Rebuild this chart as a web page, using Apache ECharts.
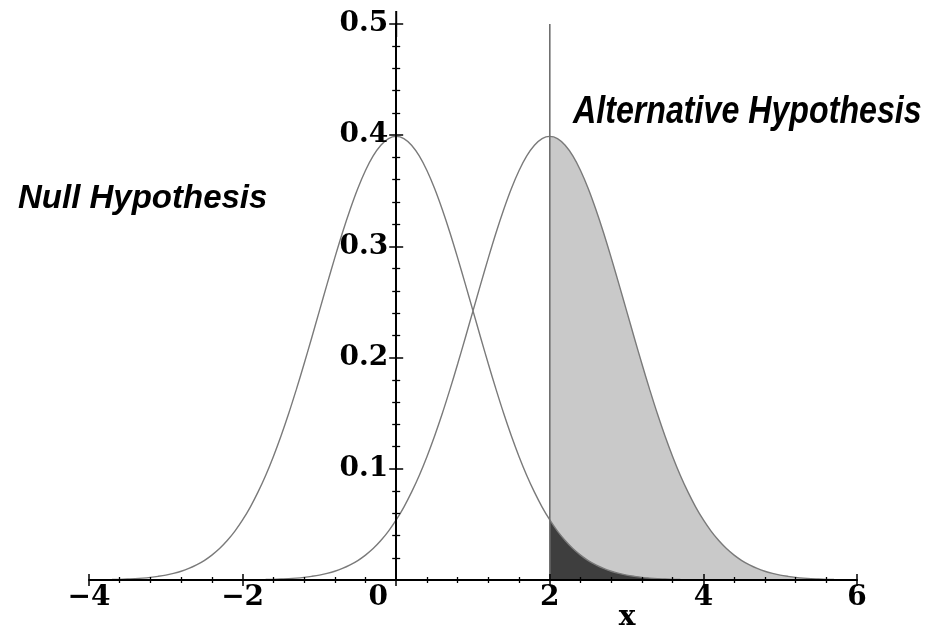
<!DOCTYPE html>
<html>
<head>
<meta charset="utf-8">
<script src="https://cdn.jsdelivr.net/npm/echarts@6/dist/echarts.min.js"></script>
<style>
  html, body { margin: 0; padding: 0; background: #ffffff; }
  #chart { width: 933px; height: 636px; }
</style>
</head>
<body>
<div id="chart"></div>
<script>
// Sample points along x (step 0.1) from -4 to 6
const xValues = [
  -4.0, -3.9, -3.8, -3.7, -3.6, -3.5, -3.4, -3.3, -3.2, -3.1,
  -3.0, -2.9, -2.8, -2.7, -2.6, -2.5, -2.4, -2.3, -2.2, -2.1,
  -2.0, -1.9, -1.8, -1.7, -1.6, -1.5, -1.4, -1.3, -1.2, -1.1,
  -1.0, -0.9, -0.8, -0.7, -0.6, -0.5, -0.4, -0.3, -0.2, -0.1,
  0.0, 0.1, 0.2, 0.3, 0.4, 0.5, 0.6, 0.7, 0.8, 0.9,
  1.0, 1.1, 1.2, 1.3, 1.4, 1.5, 1.6, 1.7, 1.8, 1.9,
  2.0, 2.1, 2.2, 2.3, 2.4, 2.5, 2.6, 2.7, 2.8, 2.9,
  3.0, 3.1, 3.2, 3.3, 3.4, 3.5, 3.6, 3.7, 3.8, 3.9,
  4.0, 4.1, 4.2, 4.3, 4.4, 4.5, 4.6, 4.7, 4.8, 4.9,
  5.0, 5.1, 5.2, 5.3, 5.4, 5.5, 5.6, 5.7, 5.8, 5.9,
  6.0
];

// Density of the null distribution (centred at 0)
const nullDensity = [
  0.0001, 0.0002, 0.0003, 0.0004, 0.0006, 0.0009, 0.0012, 0.0017, 0.0024, 0.0033,
  0.0044, 0.0060, 0.0079, 0.0104, 0.0136, 0.0175, 0.0224, 0.0283, 0.0355, 0.0440,
  0.0540, 0.0656, 0.0790, 0.0940, 0.1109, 0.1295, 0.1497, 0.1714, 0.1942, 0.2179,
  0.2420, 0.2661, 0.2897, 0.3123, 0.3332, 0.3521, 0.3683, 0.3814, 0.3910, 0.3970,
  0.3989, 0.3970, 0.3910, 0.3814, 0.3683, 0.3521, 0.3332, 0.3123, 0.2897, 0.2661,
  0.2420, 0.2179, 0.1942, 0.1714, 0.1497, 0.1295, 0.1109, 0.0940, 0.0790, 0.0656,
  0.0540, 0.0440, 0.0355, 0.0283, 0.0224, 0.0175, 0.0136, 0.0104, 0.0079, 0.0060,
  0.0044, 0.0033, 0.0024, 0.0017, 0.0012, 0.0009, 0.0006, 0.0004, 0.0003, 0.0002,
  0.0001, 0, 0, 0, 0, 0, 0, 0, 0, 0,
  0, 0, 0, 0, 0, 0, 0, 0, 0, 0,
  0
];

// Density of the alternative distribution (centred at 2)
const altDensity = [
  0, 0, 0, 0, 0, 0, 0, 0, 0, 0,
  0, 0, 0, 0, 0, 0, 0, 0, 0, 0,
  0.0001, 0.0002, 0.0003, 0.0004, 0.0006, 0.0009, 0.0012, 0.0017, 0.0024, 0.0033,
  0.0044, 0.0060, 0.0079, 0.0104, 0.0136, 0.0175, 0.0224, 0.0283, 0.0355, 0.0440,
  0.0540, 0.0656, 0.0790, 0.0940, 0.1109, 0.1295, 0.1497, 0.1714, 0.1942, 0.2179,
  0.2420, 0.2661, 0.2897, 0.3123, 0.3332, 0.3521, 0.3683, 0.3814, 0.3910, 0.3970,
  0.3989, 0.3970, 0.3910, 0.3814, 0.3683, 0.3521, 0.3332, 0.3123, 0.2897, 0.2661,
  0.2420, 0.2179, 0.1942, 0.1714, 0.1497, 0.1295, 0.1109, 0.0940, 0.0790, 0.0656,
  0.0540, 0.0440, 0.0355, 0.0283, 0.0224, 0.0175, 0.0136, 0.0104, 0.0079, 0.0060,
  0.0044, 0.0033, 0.0024, 0.0017, 0.0012, 0.0009, 0.0006, 0.0004, 0.0003, 0.0002,
  0.0001
];

// Critical value and the height of the cut-off line
const criticalValue = 2;
const cutoffTop = 0.5;

// Axis ranges and tick steps
const xRange = [-4, 6];
const xStep = 2;
const yRange = [0, 0.5];
const yStep = 0.1;

const labels = {
  nullTitle: 'Null Hypothesis',
  altTitle: 'Alternative Hypothesis',
  xName: 'x'
};

const pairs = (ys) => xValues.map((x, i) => [x, ys[i]]);
const rightOfCut = (ys) => pairs(ys).filter(p => p[0] >= criticalValue - 1e-9);

// Plot area
const W = 933, H = 636;
const grid = { left: 89, right: 76, top: 24, bottom: 56 };
const plotWidth = W - grid.left - grid.right;
// The vertical axis crosses the horizontal one at x = 0
const yAxisOffset = -((0 - xRange[0]) / (xRange[1] - xRange[0])) * plotWidth;

const serif = '"DejaVu Serif", "Liberation Serif", serif';
const labelFont = { fontFamily: serif, fontWeight: 'bold', fontSize: 28, color: '#000' };
const curveColor = '#7a7a7a';
const titleFont = 'italic bold 33px "Liberation Sans", Arial, sans-serif';
const altTitleFont = 'italic bold 32.5px "Liberation Sans", Arial, sans-serif';

function xAxisBase(inside) {
  return {
    type: 'value', min: xRange[0], max: xRange[1], interval: xStep, position: 'bottom', z: 10,
    axisLine: { show: !inside, onZero: false, lineStyle: { color: '#000', width: 2 } },
    axisTick: { show: true, inside: inside, length: 6, lineStyle: { color: '#000', width: 1.5 } },
    minorTick: { show: true, splitNumber: 5, length: 3, lineStyle: { color: '#000', width: 1.3 } },
    splitLine: { show: false },
    axisLabel: inside ? { show: false } : Object.assign({
      margin: 4,
      formatter: v => v === 0 ? '{z|0}' : String(v).replace('-', '\u2212'),
      rich: { z: Object.assign({ padding: [0, 36, 0, 0] }, labelFont) }
    }, labelFont)
  };
}

function yAxisBase(inside) {
  return {
    type: 'value', min: yRange[0], max: yRange[1], interval: yStep, position: 'left',
    offset: yAxisOffset, z: 10,
    axisLine: {
      show: true, onZero: false,
      symbol: inside ? 'none' : ['none', 'rect'], symbolSize: [2, 26],
      lineStyle: { color: '#000', width: 2 }
    },
    axisTick: { show: true, inside: inside, length: 7, lineStyle: { color: '#000', width: 1.5 } },
    minorTick: { show: true, splitNumber: 5, length: 4, lineStyle: { color: '#000', width: 1.3 } },
    splitLine: { show: false },
    axisLabel: inside ? { show: false } : Object.assign({
      margin: 8,
      formatter: v => v === 0 ? '' : v.toFixed(1)
    }, labelFont)
  };
}

const chart = echarts.init(document.getElementById('chart'), null, { renderer: 'canvas' });

chart.setOption({
  animation: false,
  backgroundColor: '#ffffff',
  grid: Object.assign({ containLabel: false }, grid),
  xAxis: [xAxisBase(false), xAxisBase(true)],
  yAxis: [yAxisBase(false), yAxisBase(true)],
  series: [
    {
      name: 'power', type: 'line', data: rightOfCut(altDensity), smooth: 0.3, showSymbol: false,
      lineStyle: { width: 0 }, areaStyle: { color: '#c9c9c9', opacity: 1 }, z: 1, silent: true
    },
    {
      name: 'alpha', type: 'line', data: rightOfCut(nullDensity), smooth: 0.3, showSymbol: false,
      lineStyle: { width: 0 }, areaStyle: { color: '#3e3e3e', opacity: 1 }, z: 2, silent: true
    },
    {
      name: 'null', type: 'line', data: pairs(nullDensity), smooth: 0.3, showSymbol: false,
      lineStyle: { color: curveColor, width: 1.4 }, z: 3, silent: true
    },
    {
      name: 'alternative', type: 'line', data: pairs(altDensity), smooth: 0.3, showSymbol: false,
      lineStyle: { color: curveColor, width: 1.4 }, z: 3, silent: true
    },
    {
      name: 'cutoff', type: 'line', data: [[criticalValue, 0], [criticalValue, cutoffTop]], showSymbol: false,
      lineStyle: { color: '#707070', width: 1.6 }, z: 4, silent: true, clip: false
    }
  ],
  graphic: [
    {
      type: 'text', x: 18, y: 199,
      style: {
        text: labels.nullTitle, font: titleFont, fill: '#000',
        textAlign: 'left', textVerticalAlign: 'middle', align: 'left', verticalAlign: 'middle'
      }
    },
    {
      type: 'text', x: 573, y: 112.5, scaleY: 1.2, scaleX: 0.99,
      style: {
        text: labels.altTitle, font: altTitleFont, fill: '#000',
        textAlign: 'left', textVerticalAlign: 'middle', align: 'left', verticalAlign: 'middle'
      }
    },
    {
      type: 'text', x: 627, y: 618,
      style: {
        text: labels.xName, font: 'bold 28px "DejaVu Serif", serif', fill: '#000',
        textAlign: 'center', textVerticalAlign: 'middle', align: 'center', verticalAlign: 'middle'
      }
    }
  ]
});
</script>
</body>
</html>
